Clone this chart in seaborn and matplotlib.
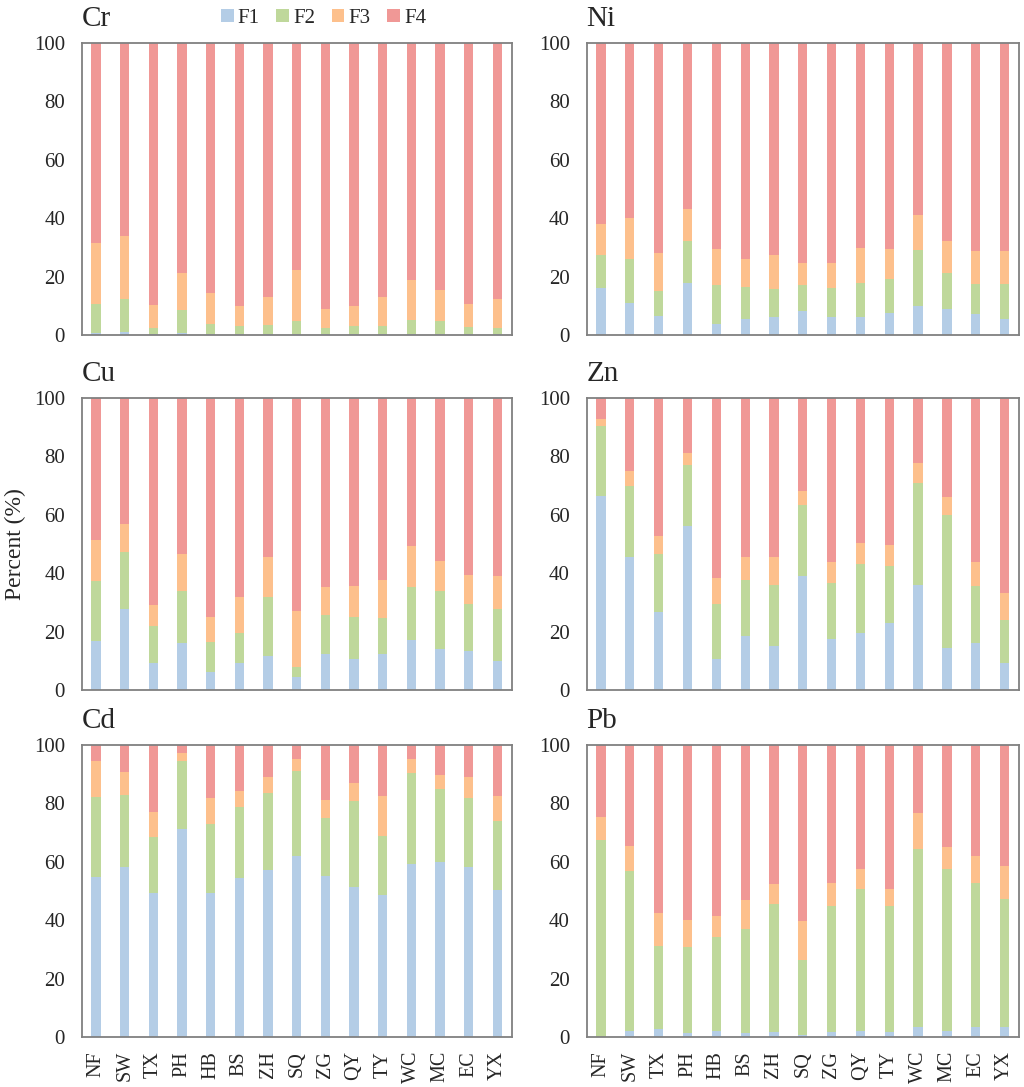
import numpy as np
import seaborn as sns
import matplotlib.pyplot as plt
from matplotlib.patches import Patch

sites = ["NF", "SW", "TX", "PH", "HB", "BS", "ZH", "SQ", "ZG", "QY", "TY", "WC", "MC", "EC", "YX"]
fractions = ["F1", "F2", "F3", "F4"]

# fraction shares (%) per site
cr_f1 = [0.7, 1.2, 0.3, 0.8, 0.3, 0.3, 0.3, 0.5, 0.3, 0.3, 0.3, 0.3, 0.5, 0.3, 0.3]
cr_f2 = [9.9, 11.0, 2.1, 7.9, 3.5, 2.9, 3.1, 4.4, 2.2, 2.7, 2.9, 4.7, 4.2, 2.4, 2.2]
cr_f3 = [20.9, 21.6, 8.0, 12.6, 10.6, 6.9, 9.7, 17.4, 6.3, 7.1, 9.7, 14.0, 10.6, 7.9, 10.0]
cr_f4 = [68.5, 66.2, 89.6, 78.7, 85.6, 89.9, 86.9, 77.7, 91.2, 89.9, 87.1, 81.0, 84.7, 89.4, 87.5]

ni_f1 = [16.1, 10.9, 6.6, 17.8, 3.9, 5.4, 6.1, 8.3, 6.1, 6.2, 7.5, 9.8, 8.8, 7.1, 5.4]
ni_f2 = [11.3, 15.0, 8.6, 14.4, 13.1, 10.9, 9.7, 8.7, 10.0, 11.6, 11.6, 19.2, 12.6, 10.4, 12.0]
ni_f3 = [10.7, 14.1, 12.9, 11.0, 12.3, 9.9, 11.5, 7.8, 8.7, 12.0, 10.5, 12.1, 10.8, 11.2, 11.4]
ni_f4 = [61.9, 60.0, 71.9, 56.8, 70.7, 73.8, 72.7, 75.2, 75.2, 70.2, 70.4, 58.9, 67.8, 71.3, 71.2]

cu_f1 = [16.7, 27.7, 9.4, 16.0, 6.3, 9.1, 11.8, 4.3, 12.3, 10.5, 12.5, 17.0, 13.9, 13.3, 10.1]
cu_f2 = [20.7, 19.5, 12.7, 17.8, 10.3, 10.3, 20.1, 3.7, 13.5, 14.4, 12.0, 18.3, 19.9, 16.2, 17.7]
cu_f3 = [14.0, 9.6, 6.9, 12.8, 8.5, 12.3, 13.8, 19.2, 9.5, 10.8, 13.3, 14.0, 10.5, 9.9, 11.3]
cu_f4 = [48.6, 43.2, 71.0, 53.4, 74.9, 68.3, 54.3, 72.8, 64.7, 64.3, 62.2, 50.7, 55.7, 60.6, 60.9]

zn_f1 = [66.6, 45.5, 26.7, 56.3, 10.6, 18.4, 15.1, 39.2, 17.5, 19.4, 22.9, 36.1, 14.5, 16.0, 9.1]
zn_f2 = [23.8, 24.4, 19.8, 20.7, 18.7, 19.2, 20.9, 24.2, 19.1, 23.7, 19.7, 34.8, 45.4, 19.8, 14.9]
zn_f3 = [2.5, 5.2, 6.1, 4.3, 9.2, 7.8, 9.4, 4.9, 7.4, 7.3, 7.1, 6.7, 6.3, 7.9, 9.1]
zn_f4 = [7.1, 24.9, 47.4, 18.7, 61.5, 54.6, 54.6, 31.7, 56.0, 49.6, 50.3, 22.4, 33.8, 56.3, 66.9]

cd_f1 = [54.9, 58.2, 49.4, 71.3, 49.4, 54.3, 57.1, 61.9, 55.0, 51.5, 48.8, 59.4, 59.9, 58.2, 50.2]
cd_f2 = [27.4, 24.8, 19.2, 23.4, 23.4, 24.6, 26.3, 29.3, 20.0, 29.3, 20.0, 31.0, 25.0, 23.7, 23.7]
cd_f3 = [12.1, 7.9, 8.4, 2.4, 9.0, 5.2, 5.5, 4.1, 6.1, 6.1, 13.7, 4.7, 5.0, 7.0, 8.7]
cd_f4 = [5.6, 9.1, 23.0, 2.9, 18.2, 15.9, 11.1, 4.7, 18.9, 13.1, 17.5, 4.9, 10.1, 11.1, 17.4]

pb_f1 = [0.0, 1.9, 2.7, 1.5, 1.9, 1.5, 1.8, 0.8, 1.8, 1.9, 1.8, 3.3, 2.2, 3.3, 3.3]
pb_f2 = [67.4, 55.1, 28.6, 29.2, 32.3, 35.6, 43.9, 25.6, 43.1, 48.7, 43.1, 61.0, 55.5, 49.4, 44.0]
pb_f3 = [7.8, 8.4, 11.1, 9.4, 7.1, 9.8, 6.6, 13.5, 8.0, 7.1, 5.8, 12.4, 7.3, 9.4, 11.4]
pb_f4 = [24.8, 34.6, 57.6, 59.9, 58.7, 53.1, 47.7, 60.1, 47.1, 42.3, 49.3, 23.3, 35.0, 37.9, 41.3]

panels = [
    ("Cr", [cr_f1, cr_f2, cr_f3, cr_f4]),
    ("Ni", [ni_f1, ni_f2, ni_f3, ni_f4]),
    ("Cu", [cu_f1, cu_f2, cu_f3, cu_f4]),
    ("Zn", [zn_f1, zn_f2, zn_f3, zn_f4]),
    ("Cd", [cd_f1, cd_f2, cd_f3, cd_f4]),
    ("Pb", [pb_f1, pb_f2, pb_f3, pb_f4]),
]

colors = ["#b4cde6", "#bfd89b", "#fdc08c", "#f09896"]

sns.set_style("white")
plt.rcParams["font.family"] = ["Liberation Serif", "DejaVu Serif"]

fig = plt.figure(figsize=(10.24, 10.87), dpi=100)

# axes boxes in figure coordinates
lefts = [0.0798, 0.5729]
widths = [0.4199, 0.4222]
bottoms = [0.6918, 0.3652, 0.046]
height = 0.2686

for i, (name, parts) in enumerate(panels):
    row, col = divmod(i, 2)
    ax = fig.add_axes([lefts[col], bottoms[row], widths[col], height])
    cum = np.cumsum(np.array(parts), axis=0)
    # overlay cumulative bars from the top fraction down to F1
    for k in range(3, -1, -1):
        sns.barplot(x=sites, y=cum[k], color=colors[k], width=0.32,
                    saturation=1, linewidth=0, errorbar=None, ax=ax)
    ax.set_xlim(-0.5, 14.5)
    ax.set_ylim(0, 100)
    ax.set_yticks(range(0, 101, 20))
    ax.set_title(name, loc="left", fontsize=21, pad=12)
    for sp in ax.spines.values():
        sp.set_color("#808080")
        sp.set_linewidth(1.3)
    ax.tick_params(axis="y", direction="in", length=4.5, width=1.0,
                   color="#808080", labelsize=15, pad=12)
    ax.tick_params(axis="x", length=0, labelsize=14.5, pad=10)
    if row == 2:
        ax.set_xticks(range(len(sites)))
        ax.set_xticklabels(sites, rotation=90)
    else:
        ax.set_xticklabels([])
    ax.set_xlabel("")
    ax.set_ylabel("")

fig.text(0.015, 0.4995, "Percent (%)", rotation=90, va="center", ha="center", fontsize=17)

handles = [Patch(facecolor=c, edgecolor="none", label=f) for c, f in zip(colors, fractions)]
fig.legend(handles=handles, loc="center", bbox_to_anchor=(0.316, 0.983), ncol=4,
           frameon=False, fontsize=15, handlelength=0.6, handleheight=0.6,
           handletextpad=0.2, columnspacing=0.8)

fig.savefig("out.png", dpi=100)
